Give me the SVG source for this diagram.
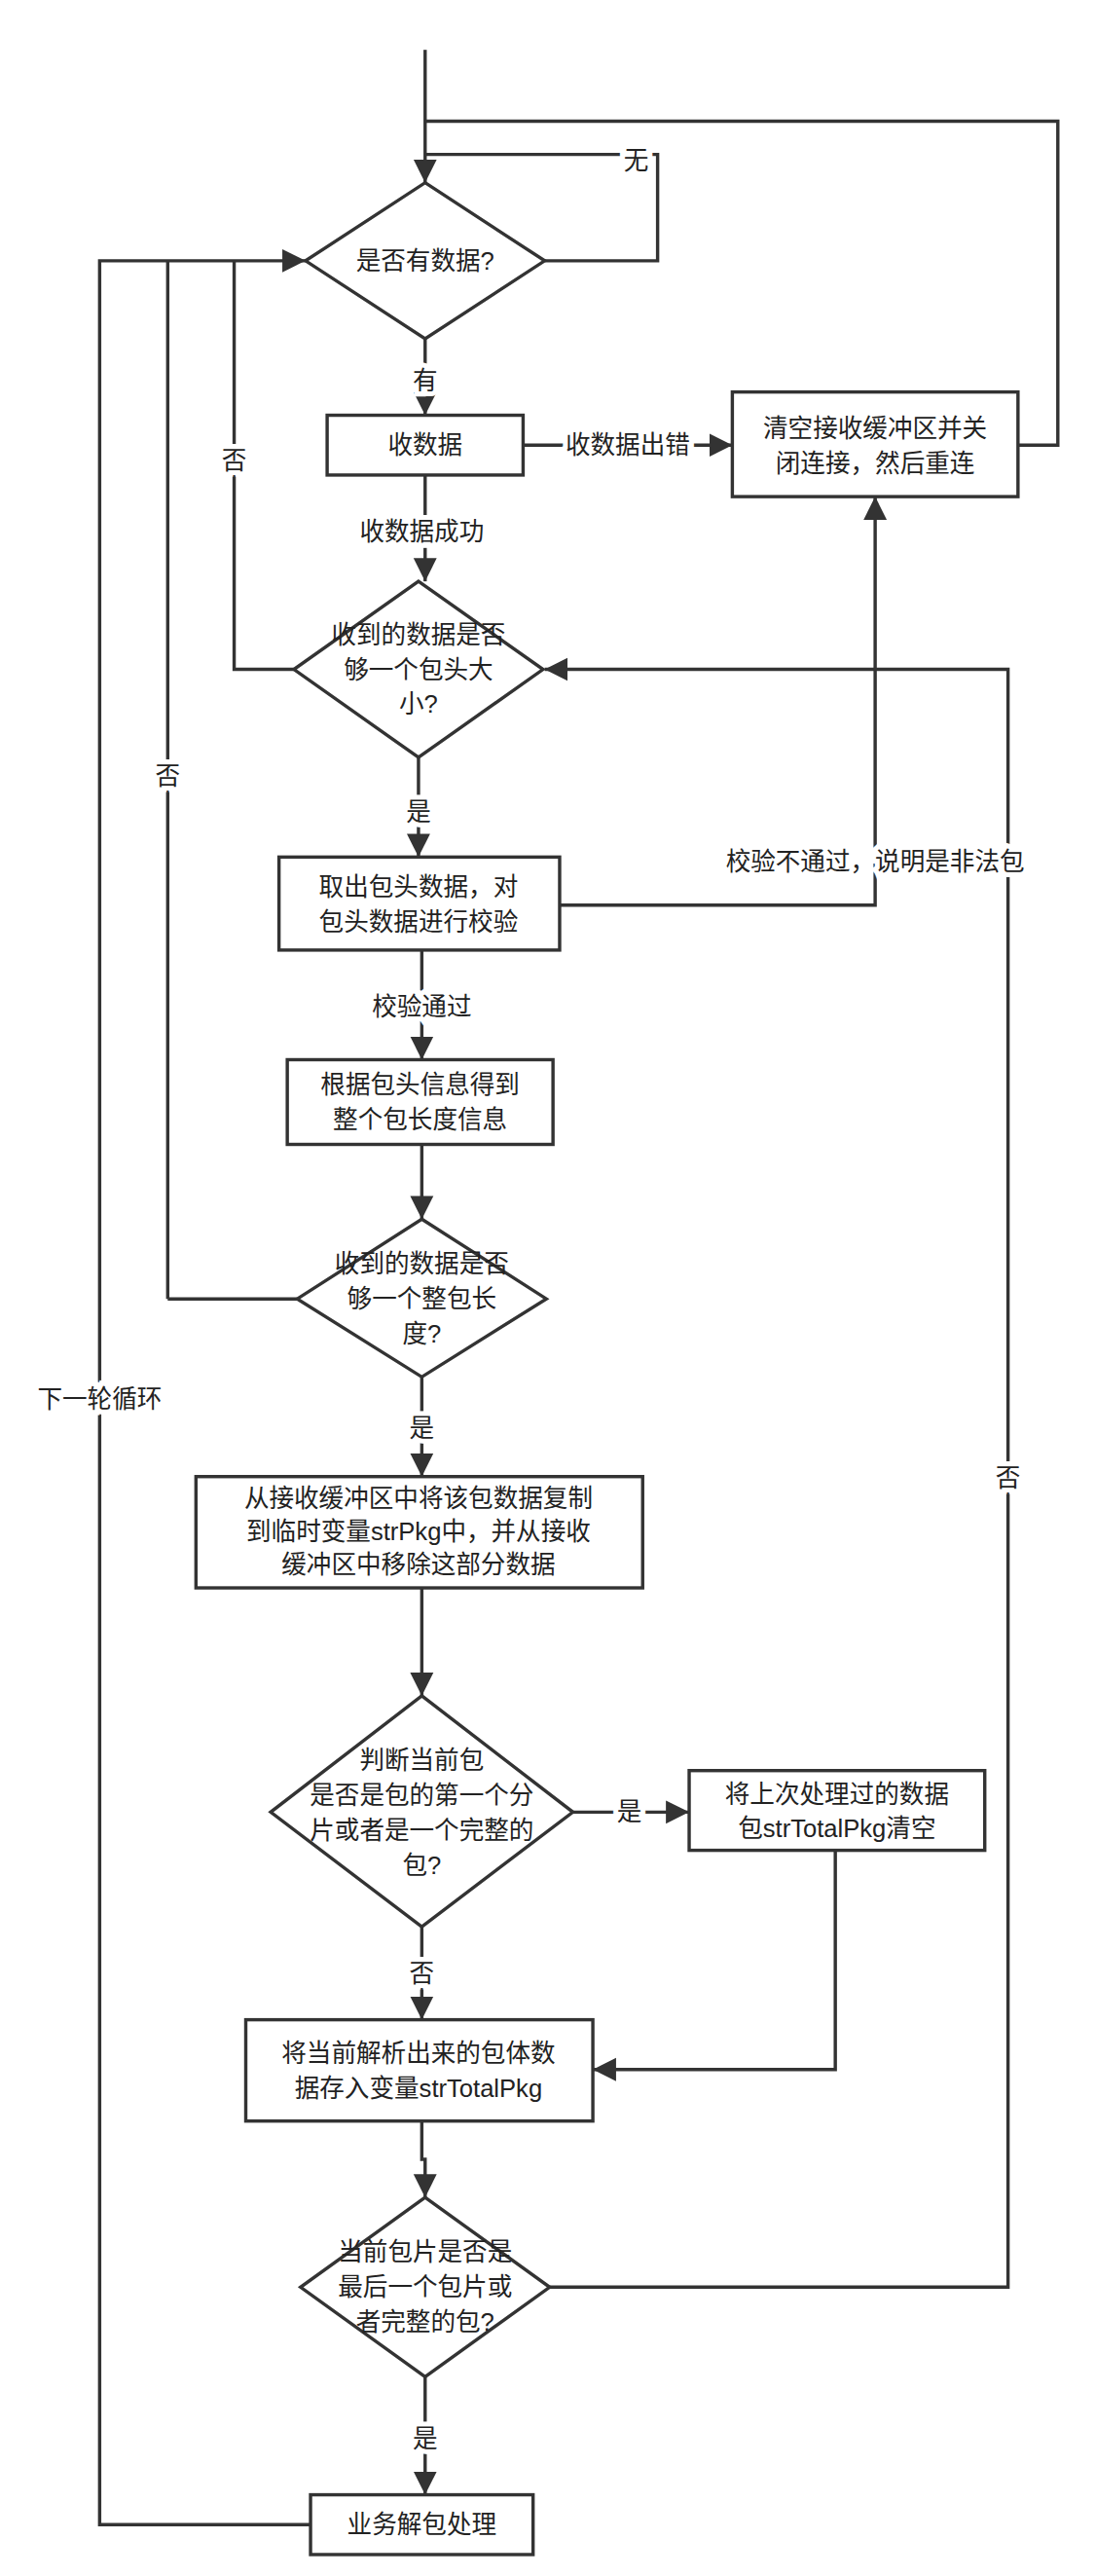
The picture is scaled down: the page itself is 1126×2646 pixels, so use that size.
<svg xmlns="http://www.w3.org/2000/svg" width="1126" height="2646" viewBox="0 0 1126 2646">
<style>
.n{fill:#fff;stroke:#333;stroke-width:2}
.c{fill:none;stroke:#333;stroke-width:2}
text{font-family:"Liberation Sans","Noto Sans CJK SC",sans-serif;font-size:15px;fill:#222;text-anchor:middle;dominant-baseline:central}
.l{stroke:#fff;stroke-width:6;paint-order:stroke}
</style>
<defs>
<marker id="a" markerUnits="userSpaceOnUse" markerWidth="16" markerHeight="16" refX="14" refY="8" orient="auto">
<path d="M0,1 L14,8 L0,15 Z" fill="#333"/>
</marker>
</defs>
<rect width="1126" height="2646" fill="#fff"/>
<g transform="scale(1.7061)">
<g id="connectors">
<path class="c" d="M256,30 V110" marker-end="url(#a)"/>
<path class="c" d="M613,268 H637 V73 H256"/>
<path class="c" d="M328,157 H396 V93 H256"/>
<path class="c" d="M256,204 V250" marker-end="url(#a)"/>
<path class="c" d="M315,268 H441" marker-end="url(#a)"/>
<path class="c" d="M256,286 V350" marker-end="url(#a)"/>
<path class="c" d="M177,403 H141 V157"/>
<path class="c" d="M101,782 V157"/>
<path class="c" d="M187,1520 H60 V157 H184" marker-end="url(#a)"/>
<path class="c" d="M331,1377 H607 V403 H328" marker-end="url(#a)"/>
<path class="c" d="M252,456 V516" marker-end="url(#a)"/>
<path class="c" d="M337,545 H527 V299" marker-end="url(#a)"/>
<path class="c" d="M254,572 V638" marker-end="url(#a)"/>
<path class="c" d="M254,689 V734" marker-end="url(#a)"/>
<path class="c" d="M179,782 H101"/>
<path class="c" d="M254,829 V889" marker-end="url(#a)"/>
<path class="c" d="M254,956 V1021" marker-end="url(#a)"/>
<path class="c" d="M345,1091 H415" marker-end="url(#a)"/>
<path class="c" d="M503,1114 V1246 H357" marker-end="url(#a)"/>
<path class="c" d="M254,1160 V1216" marker-end="url(#a)"/>
<path class="c" d="M254,1277 V1300 H256 V1323" marker-end="url(#a)"/>
<path class="c" d="M256,1431 V1502" marker-end="url(#a)"/>
<text class="l" x="383" y="97">无</text>
<text class="l" x="256" y="229">有</text>
<text class="l" x="378" y="268">收数据出错</text>
<text class="l" x="254" y="320">收数据成功</text>
<text class="l" x="141" y="277">否</text>
<text class="l" x="101" y="467">否</text>
<text class="l" x="607" y="890">否</text>
<text class="l" x="60" y="842">下一轮循环</text>
<text class="l" x="252" y="489">是</text>
<text class="l" x="527" y="519">校验不通过，说明是非法包</text>
<text class="l" x="254" y="606">校验通过</text>
<text class="l" x="254" y="860">是</text>
<text class="l" x="379" y="1091">是</text>
<text class="l" x="254" y="1188">否</text>
<text class="l" x="256" y="1468">是</text>
</g>
<g id="d1"><path class="n" d="M256,110 L328,157 L256,204 L184,157 Z"/><text x="256" y="157">是否有数据?</text></g>
<g id="b1"><rect class="n" x="197" y="250" width="118" height="36"/><text x="256" y="268">收数据</text></g>
<g id="reset"><rect class="n" x="441" y="236" width="172" height="63"/><text x="527" y="258">清空接收缓冲区并关</text><text x="527" y="279">闭连接，然后重连</text></g>
<g id="d2"><path class="n" d="M252,350 L327,403 L252,456 L177,403 Z"/><text x="252" y="382">收到的数据是否</text><text x="252" y="403">够一个包头大</text><text x="252" y="424">小?</text></g>
<g id="b3"><rect class="n" x="168" y="516" width="169" height="56"/><text x="252" y="534">取出包头数据，对</text><text x="252" y="555">包头数据进行校验</text></g>
<g id="b4"><rect class="n" x="173" y="638" width="160" height="51"/><text x="253" y="653">根据包头信息得到</text><text x="253" y="674">整个包长度信息</text></g>
<g id="d3"><path class="n" d="M254,734 L329,782 L254,829 L179,782 Z"/><text x="254" y="761">收到的数据是否</text><text x="254" y="782">够一个整包长</text><text x="254" y="803">度?</text></g>
<g id="b5"><rect class="n" x="118" y="889" width="269" height="67"/><text x="252" y="902">从接收缓冲区中将该包数据复制</text><text x="252" y="922">到临时变量strPkg中，并从接收</text><text x="252" y="942">缓冲区中移除这部分数据</text></g>
<g id="d4"><path class="n" d="M254,1021 L345,1091 L254,1160 L163,1091 Z"/><text x="254" y="1060">判断当前包</text><text x="254" y="1081">是否是包的第一个分</text><text x="254" y="1102">片或者是一个完整的</text><text x="254" y="1123">包?</text></g>
<g id="b6"><rect class="n" x="415" y="1066" width="178" height="48"/><text x="504" y="1080">将上次处理过的数据</text><text x="504" y="1101">包strTotalPkg清空</text></g>
<g id="b7"><rect class="n" x="148" y="1216" width="209" height="61"/><text x="252" y="1236">将当前解析出来的包体数</text><text x="252" y="1257">据存入变量strTotalPkg</text></g>
<g id="d5"><path class="n" d="M256,1323 L331,1377 L256,1431 L181,1377 Z"/><text x="256" y="1356">当前包片是否是</text><text x="256" y="1377">最后一个包片或</text><text x="256" y="1398">者完整的包?</text></g>
<g id="b8"><rect class="n" x="187" y="1502" width="134" height="36"/><text x="254" y="1520">业务解包处理</text></g>
</g>
</svg>
